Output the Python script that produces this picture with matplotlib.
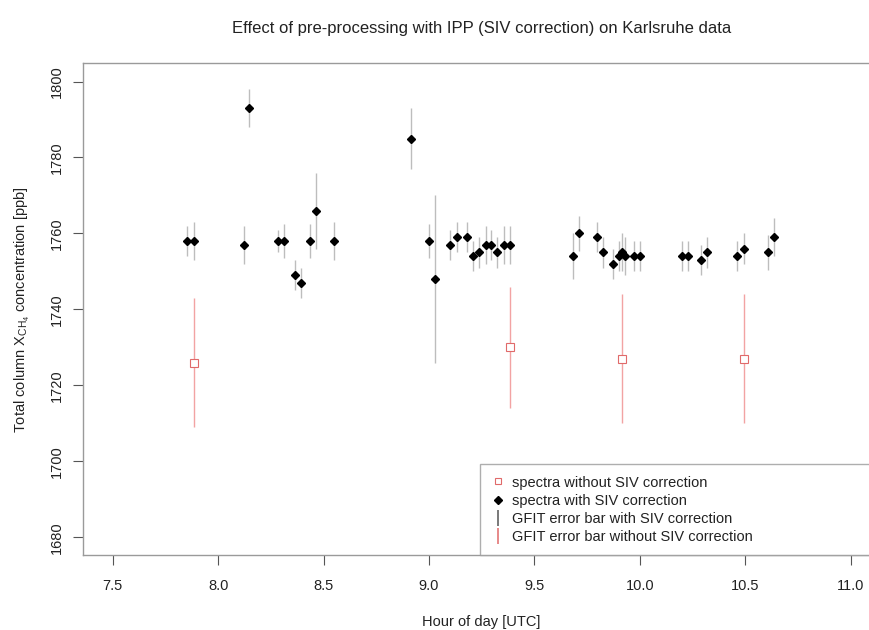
import matplotlib
matplotlib.use('Agg')
import matplotlib.pyplot as plt
from matplotlib.lines import Line2D

plt.rcParams['font.family'] = ['Liberation Sans', 'DejaVu Sans']
plt.rcParams['mathtext.default'] = 'regular'

# ── data ─────────────────────────────────────────────────────────────────────
hour_siv = [7.854, 7.884, 8.123, 8.147, 8.283, 8.311, 8.363, 8.392, 8.436, 8.466,
            8.547, 8.915, 8.999, 9.027, 9.102, 9.132, 9.181, 9.209, 9.239, 9.269,
            9.296, 9.325, 9.356, 9.385, 9.682, 9.712, 9.797, 9.826, 9.872, 9.902,
            9.914, 9.930, 9.973, 10.001, 10.202, 10.231, 10.289, 10.318, 10.463,
            10.493, 10.607, 10.636]
xch4_siv = [1758, 1758, 1757, 1793, 1758, 1758, 1749, 1747, 1758, 1766,
            1758, 1785, 1758, 1748, 1757, 1759, 1759, 1754, 1755, 1757,
            1757, 1755, 1757, 1757, 1754, 1760, 1759, 1755, 1752, 1754,
            1755, 1754, 1754, 1754, 1754, 1754, 1753, 1755, 1754,
            1756, 1755, 1759]
err_siv = [4, 5, 5, 5, 3, 4.5, 4, 4, 4.5, 10,
           5, 8, 4.5, 22, 4, 4, 4, 4, 4, 5,
           4, 4, 5, 5, 6, 4.5, 4, 4, 4, 4,
           5, 5, 4, 4, 4, 4, 4, 4, 4,
           4, 4.5, 5]

hour_nosiv = [7.884, 9.385, 9.914, 10.493]
xch4_nosiv = [1726, 1730, 1727, 1727]
err_nosiv = [17, 16, 17, 17]

x_ticks = [7.5, 8.0, 8.5, 9.0, 9.5, 10.0, 10.5, 11.0]
y_ticks = [1680, 1700, 1720, 1740, 1760, 1780, 1800]

legend_labels = ['spectra without SIV correction',
                 'spectra with SIV correction',
                 'GFIT error bar with SIV correction',
                 'GFIT error bar without SIV correction']

RED_BAR = '#f2a3a3'
RED_PT = '#e06a6a'
GREY_BAR = '#bdbdbd'
FRAME = '#9a9a9a'

# ── plot ─────────────────────────────────────────────────────────────────────
fig = plt.figure(figsize=(8.69, 6.30), dpi=100)
# axes deliberately run past the right edge (the reference is cropped there)
ax = fig.add_axes([0.0959, 0.1183, 0.9168, 0.7812])

ax.errorbar(hour_nosiv, xch4_nosiv, yerr=err_nosiv, fmt='none',
            ecolor=RED_BAR, elinewidth=1.0, capsize=0, zorder=2)
ax.plot(hour_nosiv, xch4_nosiv, ls='none', marker='s', ms=5.5,
        mfc='white', mec=RED_PT, mew=0.8, zorder=3)
ax.errorbar(hour_siv, xch4_siv, yerr=err_siv, fmt='none',
            ecolor=GREY_BAR, elinewidth=1.0, capsize=0, zorder=4)
ax.plot(hour_siv, xch4_siv, ls='none', marker='D', ms=4.3,
        color='black', zorder=5)

ax.set_xlim(7.36, 11.14)
ax.set_ylim(1675.2, 1804.8)
ax.set_xticks(x_ticks)
ax.set_xticklabels([f'{t:.1f}' for t in x_ticks])
ax.set_yticks(y_ticks)
ax.set_yticklabels([str(t) for t in y_ticks], rotation=90, va='center')

for s in ax.spines.values():
    s.set_color(FRAME)
    s.set_linewidth(1.0)
ax.tick_params(axis='both', direction='out', length=7, width=0.8,
               color='#555555', labelsize=10.5, labelcolor='#222222')
ax.tick_params(axis='x', pad=10)
ax.tick_params(axis='y', pad=7)

ax.set_xlabel('Hour of day [UTC]', fontsize=10.5, color='#222222')
ax.xaxis.set_label_coords(0.5, -0.135)
ax.xaxis.label.set_va('center')
ax.set_ylabel('Total column X$_{CH_4}$ concentration [ppb]',
              fontsize=10.5, color='#222222')
ax.yaxis.set_label_coords(-0.077, 0.5)
ax.yaxis.label.set_va('center')

ax.set_title('Effect of pre-processing with IPP (SIV correction) on Karlsruhe data',
             fontsize=12, color='#222222', pad=22)

handles = [
    Line2D([], [], ls='none', marker='s', ms=5, mfc='white', mec=RED_PT, mew=0.8),
    Line2D([], [], ls='none', marker='D', ms=4, color='black'),
    Line2D([], [], ls='none', marker='|', ms=12, mew=1.1, color='#555555'),
    Line2D([], [], ls='none', marker='|', ms=12, mew=1.1, color=RED_PT),
]
leg = ax.legend(handles, legend_labels, loc='lower left',
                bbox_to_anchor=(0.498, 0.0, 0.502, 0.19), mode='expand',
                borderaxespad=0, fontsize=10.5, frameon=True, fancybox=False,
                handlelength=0.9, handletextpad=0.5, labelspacing=0.28,
                borderpad=0.8)
leg.get_frame().set_edgecolor(FRAME)
leg.get_frame().set_linewidth(1.0)
for t in leg.get_texts():
    t.set_color('#222222')

fig.savefig('out.png', dpi=100)
